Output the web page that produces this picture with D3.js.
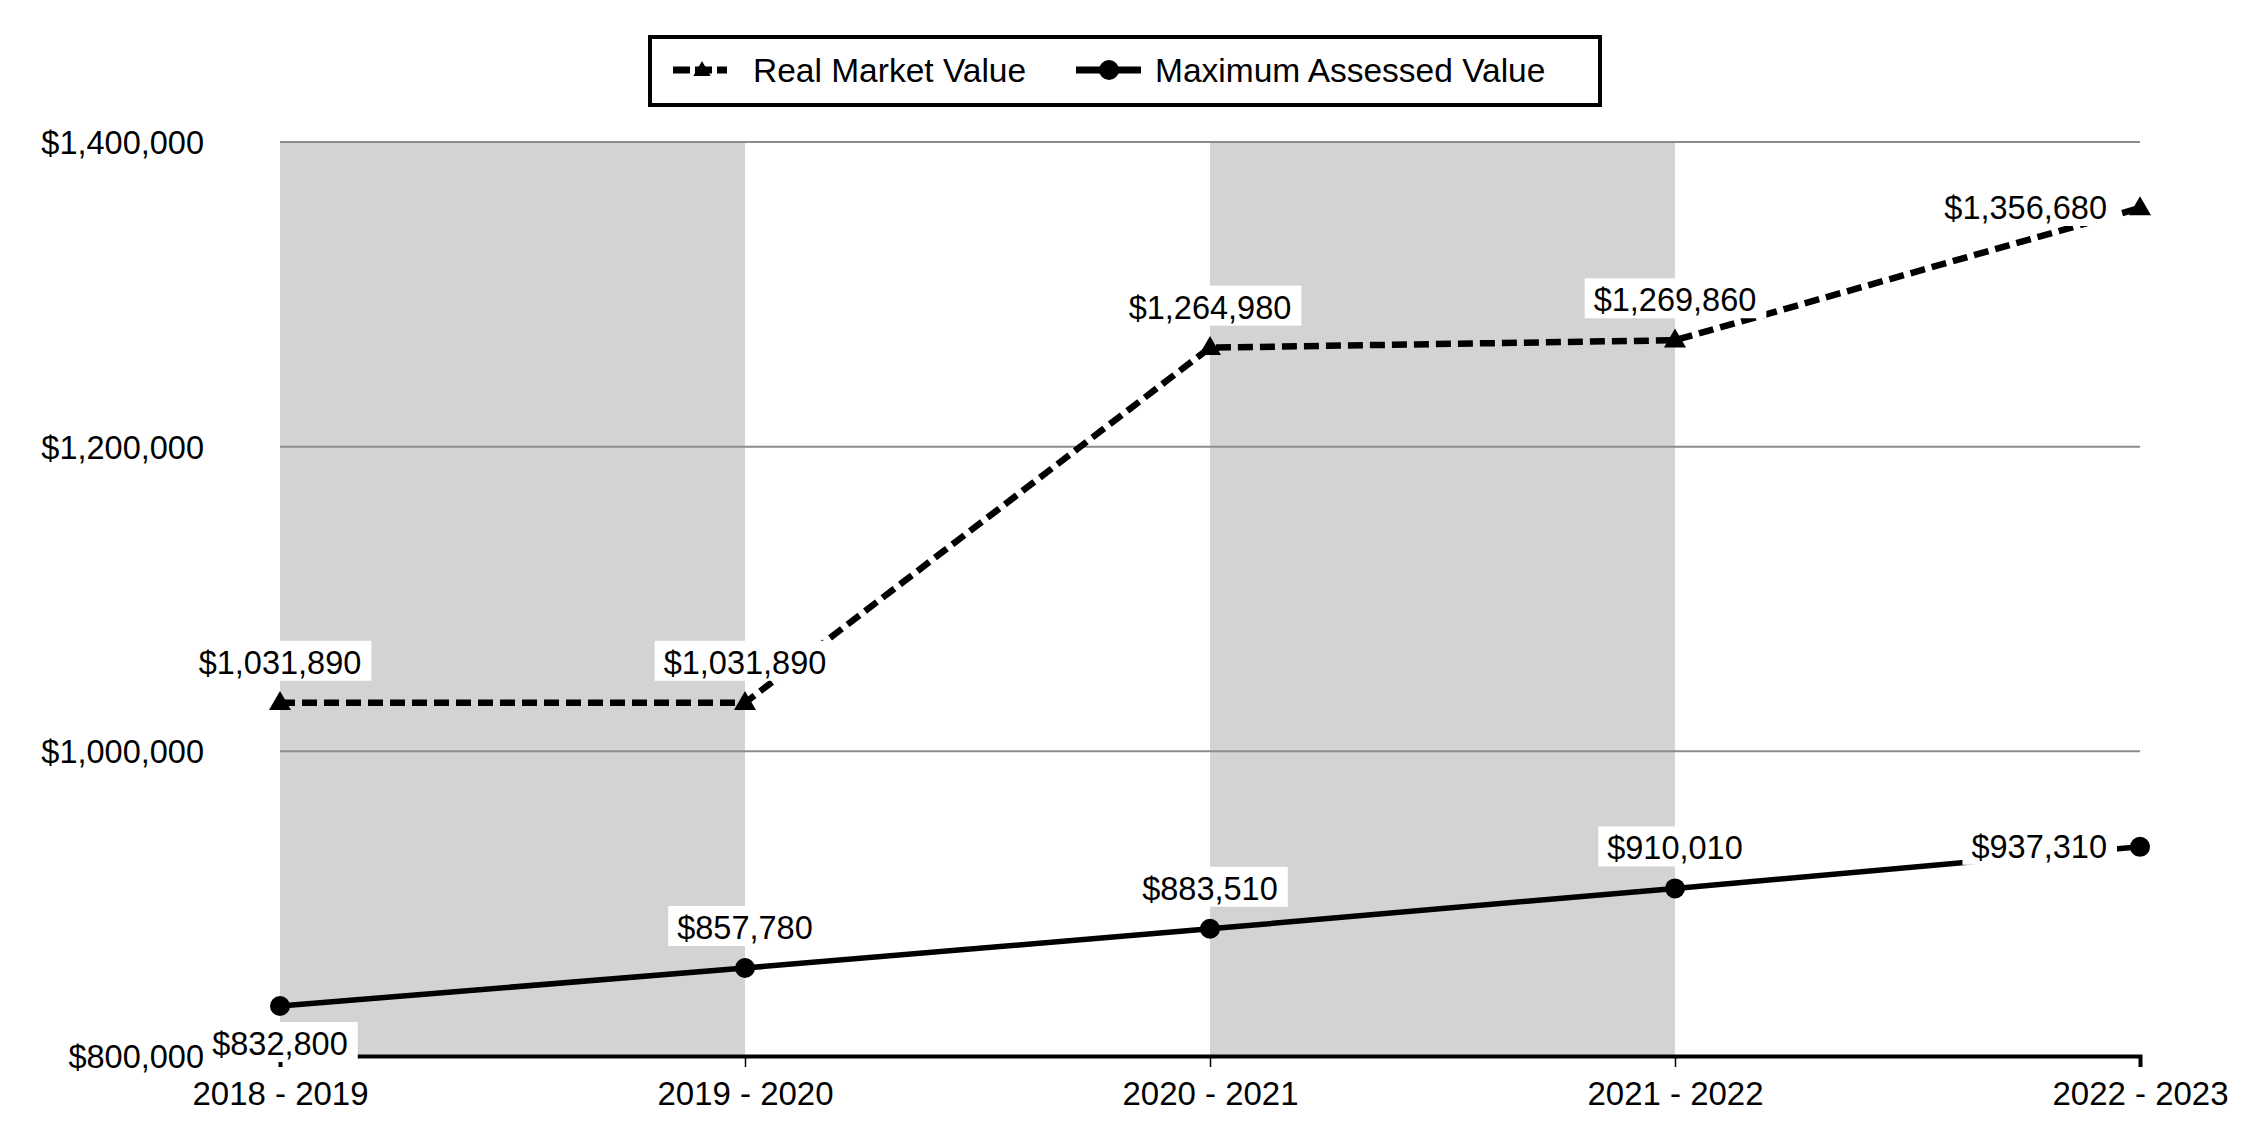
<!DOCTYPE html>
<html lang="en">
<head>
  <meta charset="utf-8">
  <title>Real Market Value vs Maximum Assessed Value</title>
  <script src="https://d3js.org/d3.v7.min.js"></script>
  <style>
  body { margin: 0; background: #fff; }
  text { font-family: "Liberation Sans", Arial, sans-serif; fill: #000; }
  </style>
</head>
<body>
<div id="chart"></div>

<script>
// data
var years = ["2018 - 2019", "2019 - 2020", "2020 - 2021", "2021 - 2022", "2022 - 2023"];
var realMarket = [1031890, 1031890, 1264980, 1269860, 1356680];
var maxAssessed = [832800, 857780, 883510, 910010, 937310];
var yTicks = [800000, 1000000, 1200000, 1400000];
var seriesNames = ["Real Market Value", "Maximum Assessed Value"];

// set the dimensions and margins of the graph
var W = 2250, H = 1140;
var margin = {top: 142, right: 110, bottom: 84, left: 280},
  width = W - margin.left - margin.right,
  height = H - margin.top - margin.bottom;

var svg = d3.select("#chart")
  .append("svg")
    .attr("width", W)
    .attr("height", H)
  .append("g")
    .attr("transform", "translate(" + margin.left + "," + margin.top + ")");

var x = d3.scalePoint()
  .domain(years)
  .range([0, width]);

var y = d3.scaleLinear()
  .domain([800000, 1400000])
  .range([height, 0]);

var fmt = d3.format("$,");

// grey bands: every other interval between years
var bands = d3.range(0, years.length - 1, 2);
svg.selectAll(".band")
  .data(bands)
  .enter()
  .append("rect")
    .attr("x", function(i) { return x(years[i]); })
    .attr("y", 0)
    .attr("width", function(i) { return x(years[i + 1]) - x(years[i]); })
    .attr("height", height)
    .attr("fill", "#d3d3d3");

// gridlines
svg.selectAll(".grid")
  .data(yTicks.slice(1))
  .enter()
  .append("line")
    .attr("x1", 0)
    .attr("x2", width)
    .attr("y1", function(d) { return y(d); })
    .attr("y2", function(d) { return y(d); })
    .attr("stroke", "#8c8c8c")
    .attr("stroke-width", 2);

// y axis labels
var yAxis = svg.append("g")
  .attr("transform", "translate(-76,0)")
  .call(d3.axisLeft(y).tickValues(yTicks).tickFormat(fmt).tickSize(0));
yAxis.select(".domain").remove();
yAxis.selectAll("text")
  .attr("x", 0)
  .attr("dy", "0.35em")
  .style("font-size", "32.5px")
  .style("font-family", "'Liberation Sans', Arial, sans-serif");

// x axis
var xAxis = svg.append("g")
  .attr("transform", "translate(0," + height + ")")
  .call(d3.axisBottom(x).tickSize(11).tickPadding(15));
xAxis.select(".domain")
  .attr("stroke", "#000")
  .attr("stroke-width", 4);
xAxis.selectAll(".tick line").attr("stroke", "#000").attr("stroke-width", 1.5);
xAxis.selectAll("text")
  .style("font-size", "33px")
  .style("font-family", "'Liberation Sans', Arial, sans-serif");

// lines
var line = d3.line()
  .x(function(d, i) { return x(years[i]); })
  .y(function(d) { return y(d); });

svg.append("path")
  .datum(realMarket)
  .attr("d", line)
  .attr("fill", "none")
  .attr("stroke", "#000")
  .attr("stroke-width", 6.5)
  .attr("stroke-dasharray", "15,7");

svg.append("path")
  .datum(maxAssessed)
  .attr("d", line)
  .attr("fill", "none")
  .attr("stroke", "#000")
  .attr("stroke-width", 5.5);

// markers
var tri = d3.symbol().type(d3.symbolTriangle).size(210);
svg.selectAll(".tri")
  .data(realMarket)
  .enter()
  .append("path")
    .attr("d", tri)
    .attr("transform", function(d, i) { return "translate(" + x(years[i]) + "," + (y(d) + 1) + ")"; })
    .attr("fill", "#000");

svg.selectAll(".dot")
  .data(maxAssessed)
  .enter()
  .append("circle")
    .attr("cx", function(d, i) { return x(years[i]); })
    .attr("cy", function(d) { return y(d); })
    .attr("r", 10)
    .attr("fill", "#000");

// value labels with white boxes
function addLabels(values, name) {
  values.forEach(function(v, i) {
    var px = x(years[i]), py = y(v);
    var g = svg.append("g");
    var t = g.append("text")
      .text(fmt(v))
      .style("font-size", "32.5px");
    if (i === values.length - 1) {
      // last point: to the left
      t.attr("x", px - 33).attr("y", py + 11).attr("text-anchor", "end");
    } else if (name === "Maximum Assessed Value" && i === 0) {
      // first assessed point sits near the axis: below
      t.attr("x", px).attr("y", py + 49).attr("text-anchor", "middle");
    } else {
      t.attr("x", px).attr("y", py - 29).attr("text-anchor", "middle");
    }
    var bb = t.node().getBBox();
    g.insert("rect", "text")
      .attr("x", bb.x - 9)
      .attr("y", bb.y - 4)
      .attr("width", bb.width + 19)
      .attr("height", bb.height + 4)
      .attr("fill", "#fff");
  });
}
addLabels(realMarket, seriesNames[0]);
addLabels(maxAssessed, seriesNames[1]);

// legend
var legend = d3.select("svg").append("g");
legend.append("rect")
  .attr("x", 650)
  .attr("y", 37)
  .attr("width", 950)
  .attr("height", 68)
  .attr("fill", "#fff")
  .attr("stroke", "#000")
  .attr("stroke-width", 4);

var ly = 70;
legend.append("line")
  .attr("x1", 673).attr("x2", 727)
  .attr("y1", ly).attr("y2", ly)
  .attr("stroke", "#000")
  .attr("stroke-width", 7)
  .attr("stroke-dasharray", "17,5");
legend.append("path")
  .attr("d", d3.symbol().type(d3.symbolTriangle).size(130))
  .attr("transform", "translate(702," + (ly + 1) + ")")
  .attr("fill", "#000");
legend.append("text")
  .attr("x", 753).attr("y", ly)
  .attr("dy", "0.35em")
  .style("font-size", "33.5px")
  .text(seriesNames[0]);

legend.append("line")
  .attr("x1", 1076).attr("x2", 1141)
  .attr("y1", ly).attr("y2", ly)
  .attr("stroke", "#000")
  .attr("stroke-width", 7);
legend.append("circle")
  .attr("cx", 1109).attr("cy", ly)
  .attr("r", 10)
  .attr("fill", "#000");
legend.append("text")
  .attr("x", 1155).attr("y", ly)
  .attr("dy", "0.35em")
  .style("font-size", "33.5px")
  .text(seriesNames[1]);
</script>
</body>
</html>
